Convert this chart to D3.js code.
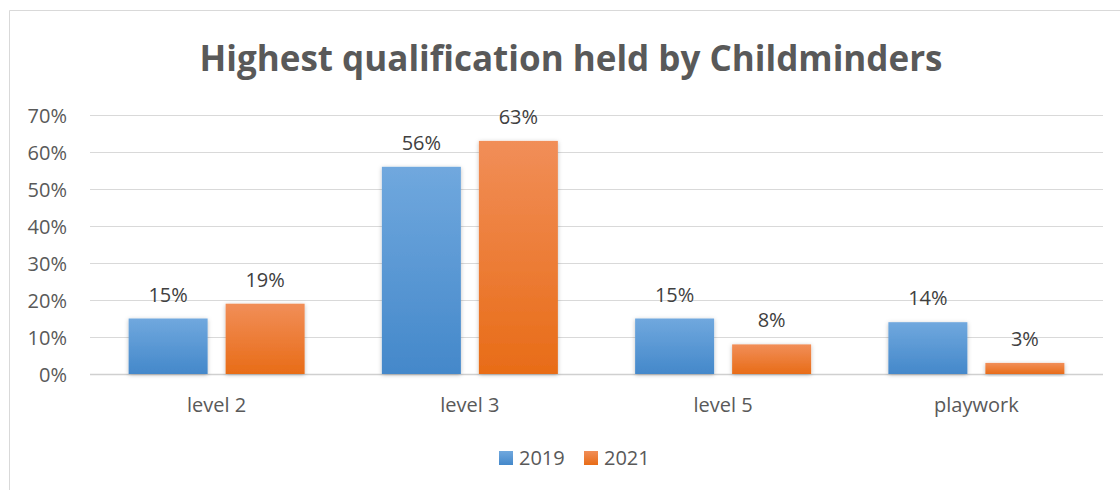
<!DOCTYPE html>
<html><head><meta charset="utf-8">
<script src="https://cdn.jsdelivr.net/npm/d3@7"></script>
<style>body{margin:0;background:#fff}svg{display:block}</style>
</head><body>
<svg id="c" width="1120" height="490"></svg>
<script>
const categories = ["level 2", "level 3", "level 5", "playwork"];
const seriesNames = ["2019", "2021"];
const values2019 = [15, 56, 15, 14];
const values2021 = [19, 63, 8, 3];
const yTicks = [0, 10, 20, 30, 40, 50, 60, 70];
const title = "Highest qualification held by Childminders";

const svg = d3.select("#c");
const font = "'Open Sans', sans-serif";
const fs = 20;
const defs = svg.append("defs");
const grads = [
  {id: "gBlue", top: "#70A8DE", bot: "#4488CA"},
  {id: "gOrange", top: "#F18E58", bot: "#E86C17"}
];
grads.forEach(g => {
  const lg = defs.append("linearGradient").attr("id", g.id).attr("x1", 0).attr("y1", 0).attr("x2", 0).attr("y2", 1);
  lg.append("stop").attr("offset", "0%").attr("stop-color", g.top);
  lg.append("stop").attr("offset", "100%").attr("stop-color", g.bot);
});
const f = defs.append("filter").attr("id", "sh").attr("x", "-20%").attr("y", "-20%").attr("width", "140%").attr("height", "140%");
f.append("feDropShadow").attr("dx", 0).attr("dy", 1).attr("stdDeviation", 2).attr("flood-color", "#000").attr("flood-opacity", 0.25);

// border
svg.append("path").attr("d", "M9.5,490 L9.5,10.5 L1120,10.5").attr("fill", "none").attr("stroke", "#D9D9D9").attr("stroke-width", 1);

svg.append("text").attr("x", 571).attr("y", 71).attr("text-anchor", "middle")
  .attr("font-family", font).attr("font-weight", "bold").attr("font-size", 35).attr("fill", "#595959").text(title);

const x = d3.scaleBand().domain(categories).range([90, 1103]);
const y = d3.scaleLinear().domain([0, 70]).range([374, 115]);
const bw = 79, gap = 18;
const outer = (x.bandwidth() - 2*bw - gap) / 2;
const xoff = {"2019": outer, "2021": outer + bw + gap};

// gridlines
svg.append("g").selectAll("line").data(yTicks).join("line")
  .attr("x1", 90).attr("x2", 1103)
  .attr("y1", d => Math.round(y(d)) + 0.5).attr("y2", d => Math.round(y(d)) + 0.5)
  .attr("stroke", d => d === 0 ? "#D0D0D0" : "#D9D9D9").attr("stroke-width", d => d === 0 ? 1.5 : 1);

// y axis labels
const yAxis = d3.axisLeft(y).tickValues(yTicks).tickFormat(d => d + "%").tickSize(0).tickPadding(0);
const ga = svg.append("g").attr("transform", "translate(67,0)").call(yAxis);
ga.select(".domain").remove();
ga.selectAll("text").attr("font-family", font).attr("font-size", fs).attr("fill", "#595959").attr("dy", "0.36em");

// x axis labels
const xAxis = d3.axisBottom(x).tickSize(0).tickPadding(0);
const gx = svg.append("g").attr("transform", "translate(0,412)").call(xAxis);
gx.select(".domain").remove();
gx.selectAll("text").attr("font-family", font).attr("font-size", fs).attr("fill", "#595959").attr("y", 0).attr("dy", "0");

const data = [];
categories.forEach((c, i) => {
  data.push({c, s: "2019", v: values2019[i], fill: "url(#gBlue)"});
  data.push({c, s: "2021", v: values2021[i], fill: "url(#gOrange)"});
});

svg.append("g").selectAll("rect").data(data).join("rect")
  .attr("x", d => x(d.c) + xoff[d.s]).attr("width", bw)
  .attr("y", d => y(d.v)).attr("height", d => y(0) - y(d.v))
  .attr("fill", d => d.fill).attr("filter", "url(#sh)");

svg.append("g").selectAll("text").data(data).join("text")
  .attr("x", d => x(d.c) + xoff[d.s] + bw/2).attr("y", d => y(d.v) - 17)
  .attr("text-anchor", "middle").attr("font-family", font).attr("font-size", fs).attr("fill", "#404040")
  .text(d => d.v + "%");

// legend
const leg = svg.append("g");
const legItems = [{n: "2019", fill: "url(#gBlue)", x: 499}, {n: "2021", fill: "url(#gOrange)", x: 584}];
legItems.forEach(it => {
  leg.append("rect").attr("x", it.x).attr("y", 451).attr("width", 14).attr("height", 14).attr("fill", it.fill);
  leg.append("text").attr("x", it.x + 20).attr("y", 465).attr("font-family", font).attr("font-size", fs).attr("fill", "#595959").text(it.n);
});
</script>
</body></html>
